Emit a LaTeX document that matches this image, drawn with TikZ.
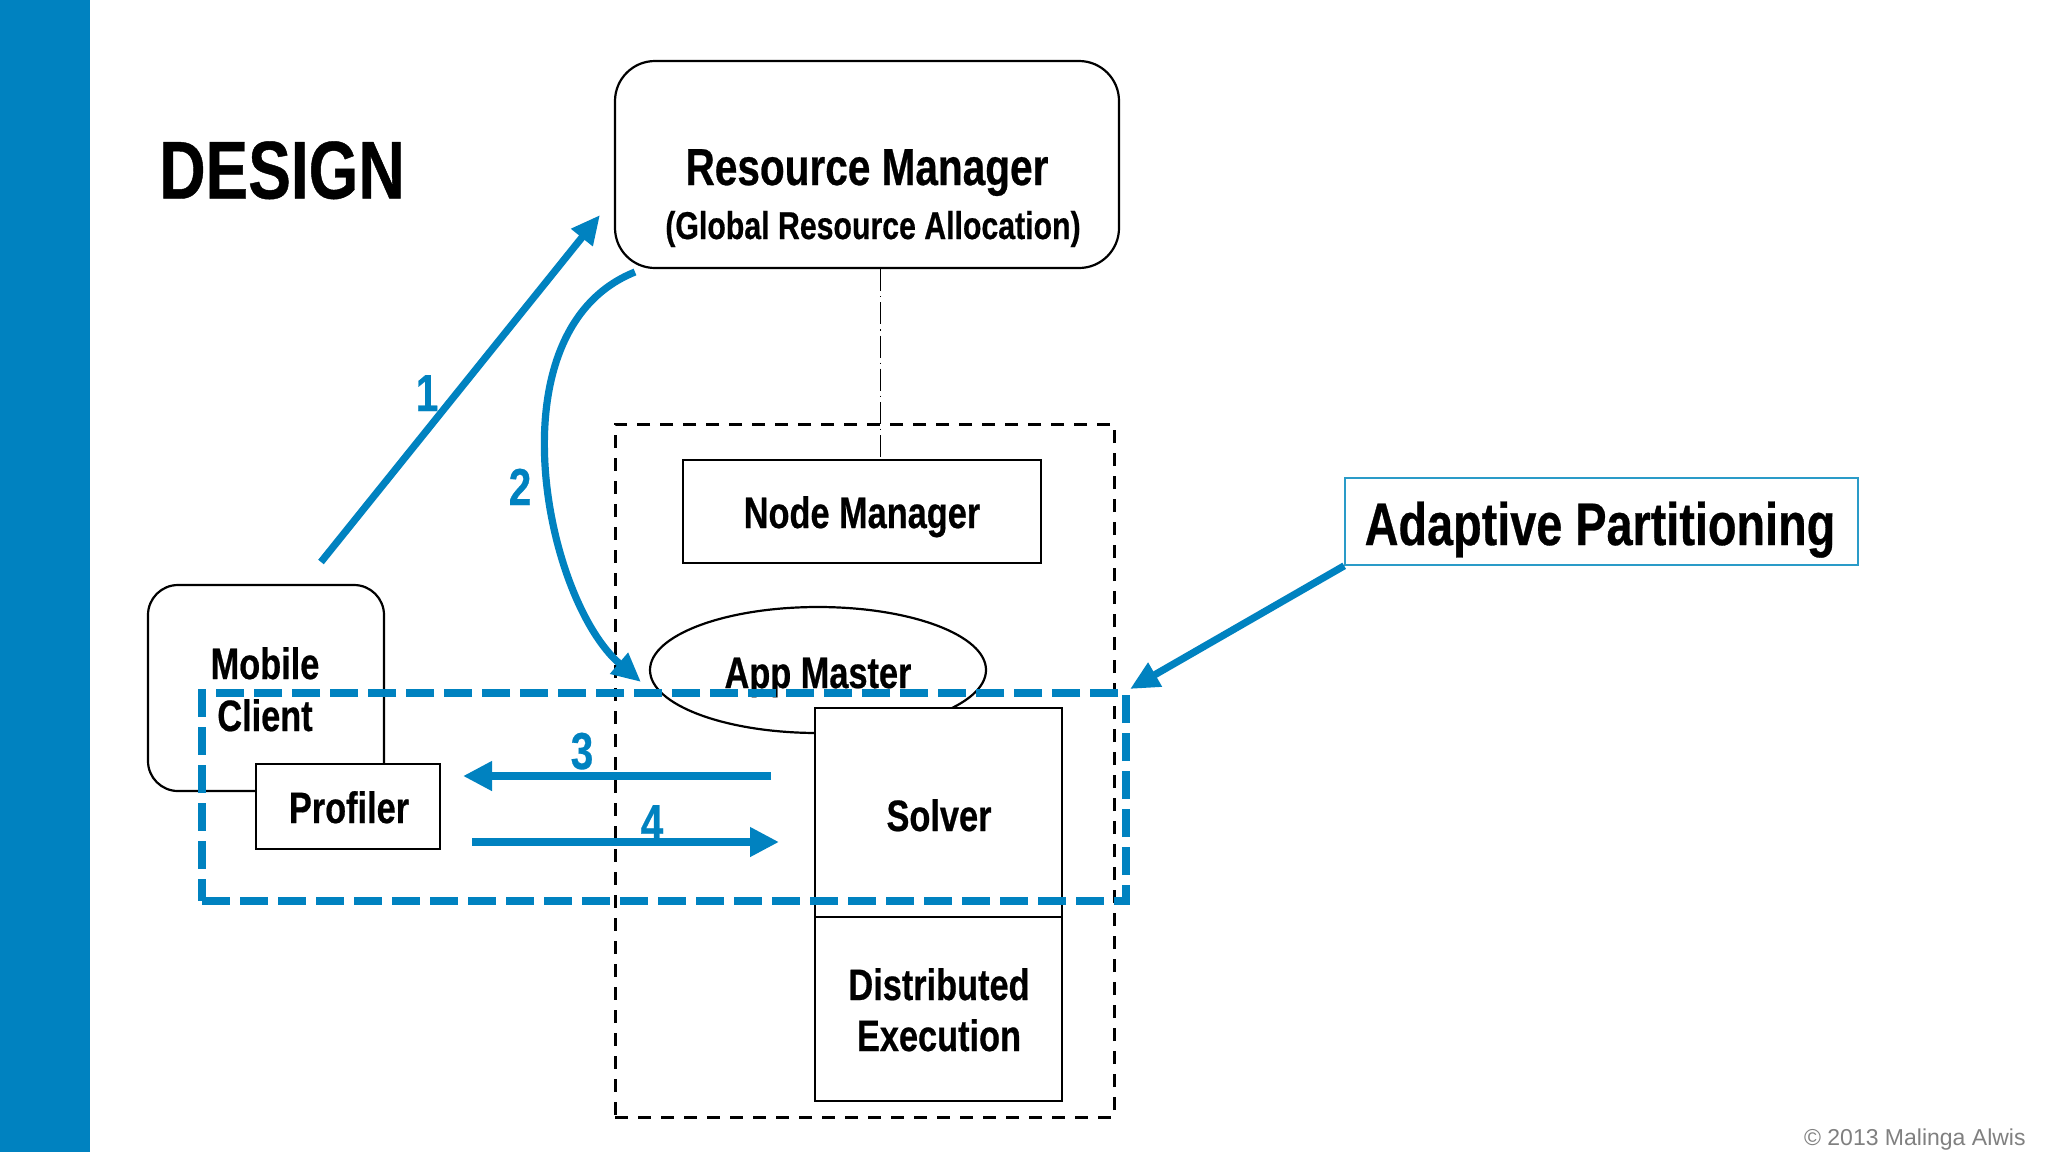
\documentclass[tikz,border=0pt]{standalone}
\usepackage{fontspec}
\newfontfamily\cond{Liberation Sans}[FakeStretch=0.78, BoldFeatures={FakeBold=0.5}]
\newfontfamily\plainf{Liberation Sans}
\usetikzlibrary{arrows.meta,shapes.geometric}
\definecolor{ablue}{HTML}{0082C0}
\definecolor{apbox}{HTML}{2A9BC8}
\begin{document}
\begin{tikzpicture}[x=0.5pt,y=-0.5pt,
  box/.style={draw, line width=1.1pt, inner sep=0pt, fill=white},
  txt/.style={inner sep=0pt, anchor=base, font=\cond\bfseries\fontsize{22}{26}\selectfont},
  num/.style={inner sep=0pt, anchor=base, text=ablue, font=\cond\bfseries\fontsize{26}{30}\selectfont},
  barrow/.style={draw=ablue, line width=3.6pt, -{Triangle[length=14.5pt,width=13pt]}},
  thickarrow/.style={draw=ablue, line width=4.2pt, -{Triangle[length=14.5pt,width=14pt]}}]
\fill[white] (0,0) rectangle (2048,1152);
\useasboundingbox (0,0) rectangle (2048,1152);
\fill[ablue] (0,0) rectangle (90,1152);

\node[inner sep=0pt, anchor=base west, font=\cond\bfseries\fontsize{41}{46}\selectfont] (title) at (159,198.5) {DESIGN};

% Resource manager
\node[box, rounded corners=20pt, minimum width=252pt, minimum height=103.5pt] (rm) at (867,164.5) {};
\node[txt, font=\cond\bfseries\fontsize{26}{30}\selectfont] (rmt) at (867,185) {Resource Manager};
\node[txt, font=\cond\bfseries\fontsize{19.4}{23}\selectfont] (rms) at (873,239) {(Global Resource Allocation)};

% host
\node[draw, line width=1.5pt, dash pattern=on 6.5pt off 5pt, inner sep=0pt, minimum width=249.5pt, minimum height=346.5pt] (host) at (864.5,770.5) {};
\node[box, minimum width=179pt, minimum height=51.5pt] (nm) at (862,511.5) {};
\node[txt] (nmt) at (862,528) {Node Manager};
\coordinate (ddx) at (880,0);
\draw[line width=0.5pt, dash pattern=on 11pt off 2.5pt on 0.6pt off 2.5pt] (rm.south -| ddx) -- (nm.north -| ddx);

\node[box, ellipse, minimum width=168pt, minimum height=63pt] (am) at (818,670) {};
\node[txt] (amt) at (818,688) {App Master};
\node[box, minimum width=123.5pt, minimum height=104.5pt] (sv) at (938.5,812.5) {};
\node[txt] (svt) at (939,831) {Solver};
\node[box, minimum width=123.5pt, minimum height=92pt] (de) at (938.5,1009) {};
\node[txt] (det1) at (939,1000) {Distributed};
\node[txt] (det2) at (939,1051) {Execution};

% mobile client
\node[box, rounded corners=15pt, minimum width=118pt, minimum height=103pt] (mc) at (266,688) {};
\node[txt] (mct1) at (265,679) {Mobile};
\node[txt] (mct2) at (265,731) {Client};
\node[box, minimum width=92pt, minimum height=42.5pt] (pf) at (348,806.5) {};
\node[txt] (pft) at (349,823) {Profiler};

% adaptive partition region
\node[draw=ablue, line width=4pt, dash pattern=on 14pt off 5pt, inner sep=0pt, minimum width=462pt, minimum height=104pt] (ap) at (664,797) {};

% label box
\node[draw=apbox, line width=0.8pt, fill=white, inner sep=0pt, minimum width=256.5pt, minimum height=43.5pt] (apb) at (1601.5,521.5) {};
\node[txt, font=\cond\bfseries\fontsize{30}{34}\selectfont] (apbt) at (1600,545) {Adaptive Partitioning};

% arrows
\coordinate (a1s) at (321,562);
\coordinate (a1e) at (600,215);
\draw[barrow] (a1s) -- (a1e);
\node[num] (n1) at (427,411) {1};

\coordinate (a2s) at (635,272);
\coordinate (a2e) at (641,682);
\draw[barrow] (a2s) .. controls (490,330) and (545,600) .. (a2e);
\node[num] (n2) at (520,505) {2};

\coordinate (a3s) at (771,776);
\coordinate (a3e) at (463,776);
\draw[thickarrow] (a3s) -- (a3e);
\node[num] (n3) at (582,769) {3};

\coordinate (a4s) at (472,842);
\coordinate (a4e) at (779,842);
\draw[thickarrow] (a4s) -- (a4e);
\node[num] (n4) at (652,841) {4};

\draw[barrow] (apb.south west) -- (ap.north east);

\node[anchor=base east, inner sep=0pt, font=\plainf\fontsize{11.5}{13}\selectfont, text=black!50] (cp) at (2026,1145) {© 2013 Malinga Alwis};
\end{tikzpicture}
\end{document}
